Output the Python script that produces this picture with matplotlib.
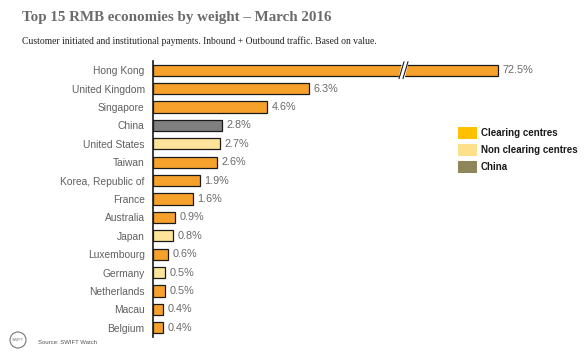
import matplotlib.pyplot as plt
from matplotlib.patches import Patch, Ellipse

countries = ["Hong Kong", "United Kingdom", "Singapore", "China", "United States",
             "Taiwan", "Korea, Republic of", "France", "Australia", "Japan",
             "Luxembourg", "Germany", "Netherlands", "Macau", "Belgium"]
shares = [72.5, 6.3, 4.6, 2.8, 2.7, 2.6, 1.9, 1.6, 0.9, 0.8, 0.6, 0.5, 0.5, 0.4, 0.4]
groups = ["clearing", "clearing", "clearing", "china", "non", "clearing", "clearing",
          "clearing", "clearing", "non", "clearing", "non", "clearing", "clearing", "clearing"]

bar_colors = {"clearing": "#F5A12B", "non": "#FEE49A", "china": "#7F7F7F"}
legend_colors = {"clearing": "#FFC000", "non": "#FEE08C", "china": "#8E8658"}
legend_labels = {"clearing": "Clearing centres", "non": "Non clearing centres", "china": "China"}

CAP = 13.9     # drawn length of the broken Hong Kong bar
BREAK_AT = 10.1

plt.rcParams["font.family"] = ["Liberation Sans", "DejaVu Sans"]
fig = plt.figure(figsize=(5.87, 3.55), dpi=100)
ax = fig.add_axes([153 / 587, 1 - 337 / 355, (560 - 153) / 587, (337 - 61) / 355])

ypos = list(range(len(countries)))
drawn = [min(v, CAP) for v in shares]
ax.barh(ypos, drawn, height=0.6, color=[bar_colors[g] for g in groups],
        edgecolor="#1a1a1a", linewidth=0.9)

for y, v, d in zip(ypos, shares, drawn):
    ax.text(d + 0.18, y, f"{v}%", va="center", ha="left", fontsize=7.8, color="#6a6a6a")

# break marks on the Hong Kong bar
for dx in (-0.08, 0.08):
    ax.plot([BREAK_AT + dx - 0.1, BREAK_AT + dx + 0.1], [0.45, -0.45],
            color="#1a1a1a", lw=0.8, clip_on=False, zorder=4)
ax.fill([BREAK_AT - 0.18, BREAK_AT - 0.02, BREAK_AT + 0.18, BREAK_AT + 0.02],
        [0.45, -0.45, -0.45, 0.45], color="white", zorder=3)

ax.set_xlim(0, (560 - 153) / 24.8)
ax.set_ylim(14.5, -0.5)
ax.set_yticks(ypos)
ax.set_yticklabels(countries, fontsize=7.4, color="#606060")
ax.tick_params(axis="y", length=0, pad=6)
ax.set_xticks([])
for side in ("top", "right", "bottom"):
    ax.spines[side].set_visible(False)
ax.spines["left"].set_color("#1a1a1a")
ax.spines["left"].set_linewidth(1.2)

handles = [Patch(facecolor=legend_colors[k], edgecolor="none", label=legend_labels[k])
           for k in ("clearing", "non", "china")]
fig.legend(handles=handles, loc="upper left", bbox_to_anchor=(449 / 587, 1 - 118 / 355),
           frameon=False, handlelength=2.0, handleheight=1.5,
           handletextpad=0.35, labelspacing=0.55, labelcolor="#1a1a1a",
           prop={"weight": "bold", "size": 7.0})

fig.text(22 / 587, 1 - 17 / 355, "Top 15 RMB economies by weight \u2013 March 2016",
         fontsize=10.8, fontweight="bold", color="#6b6b6b", va="center",
         family=["Liberation Serif", "DejaVu Serif"])
fig.text(22 / 587, 1 - 41 / 355,
         "Customer initiated and institutional payments. Inbound + Outbound traffic. Based on value.",
         fontsize=6.9, color="#222222", va="center", family=["Liberation Serif", "DejaVu Serif"])

# SWIFT logo and source
logo = Ellipse((18 / 587, 1 - 340 / 355), 16 / 587, 16 / 355, transform=fig.transFigure,
               facecolor="white", edgecolor="#777777", lw=0.8)
fig.patches.append(logo)
fig.text(18 / 587, 1 - 340 / 355, "SWIFT", fontsize=2.8, color="#777777",
         ha="center", va="center")
fig.text(38 / 587, 1 - 343 / 355, "Source: SWIFT Watch", fontsize=4.3,
         color="#555555", va="center")

fig.savefig("out.png", dpi=100)
